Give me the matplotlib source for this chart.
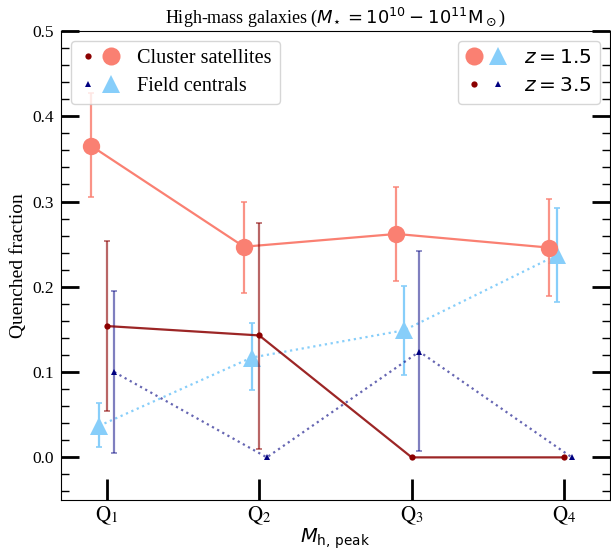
import matplotlib
matplotlib.use('Agg')
import matplotlib.pyplot as plt
from matplotlib.legend_handler import HandlerTuple
from matplotlib.lines import Line2D
from matplotlib.ticker import MultipleLocator
import numpy as np

plt.rcParams['font.family'] = ['Liberation Serif', 'DejaVu Serif']
plt.rcParams['mathtext.fontset'] = 'dejavusans'

quartiles = [1, 2, 3, 4]
tick_labels = [r'$\mathrm{Q}_1$', r'$\mathrm{Q}_2$', r'$\mathrm{Q}_3$', r'$\mathrm{Q}_4$']

# Cluster satellites, z = 1.5
sat_z15 = [0.365, 0.247, 0.262, 0.246]
sat_z15_lo = [0.305, 0.193, 0.207, 0.189]
sat_z15_hi = [0.427, 0.300, 0.317, 0.303]
# Field centrals, z = 1.5
cen_z15 = [0.037, 0.117, 0.149, 0.237]
cen_z15_lo = [0.012, 0.079, 0.097, 0.182]
cen_z15_hi = [0.064, 0.157, 0.201, 0.293]
# Cluster satellites, z = 3.5
sat_z35 = [0.154, 0.143, 0.0, 0.0]
sat_z35_lo = [0.054, 0.010, 0.0, 0.0]
sat_z35_hi = [0.254, 0.275, 0.0, 0.0]
# Field centrals, z = 3.5
cen_z35 = [0.100, 0.0, 0.124, 0.0]
cen_z35_lo = [0.005, 0.0, 0.008, 0.0]
cen_z35_hi = [0.195, 0.0, 0.242, 0.0]

fig = plt.figure(figsize=(6.11, 5.53), dpi=100)
ax = fig.add_axes([0.0998, 0.0958, 0.8985, 0.8482])


def series(y, lo, hi, dx, color, ecolor, ealpha, marker, ms, ls, lalpha, z):
    x = np.array(quartiles, dtype=float) + dx
    y = np.array(y); lo = np.array(lo); hi = np.array(hi)
    m = hi > lo
    ax.errorbar(x[m], y[m], yerr=[y[m] - lo[m], hi[m] - y[m]], fmt='none',
                ecolor=ecolor, alpha=ealpha, elinewidth=1.6, capsize=2.5,
                capthick=1.2, zorder=z)
    ax.plot(x, y, ls=ls, color=color, lw=1.6, alpha=lalpha, zorder=z + 0.1)
    ax.plot(x, y, ls='none', marker=marker, ms=ms, color=color,
            markeredgewidth=0, zorder=z + 0.2)


series(cen_z15, cen_z15_lo, cen_z15_hi, -0.05, 'lightskyblue', 'lightskyblue', 1.0,
       '^', 13, ':', 1.0, 2)
series(sat_z15, sat_z15_lo, sat_z15_hi, -0.10, 'salmon', 'salmon', 0.85,
       'o', 12.5, '-', 1.0, 3)
series(cen_z35, cen_z35_lo, cen_z35_hi, 0.05, 'navy', 'navy', 0.5,
       '^', 4.5, ':', 0.6, 4)
series(sat_z35, sat_z35_lo, sat_z35_hi, 0.0, 'darkred', 'darkred', 0.6,
       'o', 4.5, '-', 0.85, 5)

ax.set_xlim(0.7, 4.3)
ax.set_ylim(-0.05, 0.5)
ax.set_xticks(quartiles)
ax.set_xticklabels(tick_labels, math_fontfamily='stix', fontsize=15)
ax.yaxis.set_major_locator(MultipleLocator(0.1))
ax.yaxis.set_minor_locator(MultipleLocator(0.02))
ax.tick_params(axis='y', which='both', direction='in', left=True, right=True,
               labelsize=12.5, pad=5)
ax.tick_params(axis='y', which='major', length=13, width=2)
ax.tick_params(axis='y', which='minor', length=6, width=1)
ax.tick_params(axis='x', which='major', direction='in', length=15, width=2, top=False, pad=3)
ax.set_yticks([0.0, 0.1, 0.2, 0.3, 0.4, 0.5])
ax.set_yticklabels(['0.0', '0.1', '0.2', '0.3', '0.4', '0.5'])

ax.set_ylabel('Quenched fraction', fontsize=14)
ax.set_xlabel(r'$M_{\rm h,\,peak}$', fontsize=14, labelpad=0)
ax.set_title(r'High-mass galaxies ($M_{\!\star} = 10^{10} - 10^{11}\mathrm{M}_\odot$)',
             fontsize=13, pad=6)

def mk(marker, ms, color):
    return Line2D([], [], ls='none', marker=marker, ms=ms, color=color, markeredgewidth=0)

h1 = [(mk('o', 4.5, 'darkred'), mk('o', 13, 'salmon')),
      (mk('^', 4.5, 'navy'), mk('^', 13, 'lightskyblue'))]
leg1 = ax.legend(h1, ['Cluster satellites', 'Field centrals'], loc='upper left',
                 handler_map={tuple: HandlerTuple(ndivide=None, pad=0.3)},
                 fontsize=14.6, handlelength=2.0, borderaxespad=0.5,
                 labelspacing=0.4, handletextpad=0.85)
ax.add_artist(leg1)
h2 = [(mk('o', 13, 'salmon'), mk('^', 13, 'lightskyblue')),
      (mk('o', 4.5, 'darkred'), mk('^', 4.5, 'navy'))]
ax.legend(h2, [r'$z = 1.5$', r'$z = 3.5$'], loc='upper right',
          handler_map={tuple: HandlerTuple(ndivide=None, pad=0.4)},
          fontsize=14.6, handlelength=2.0, borderaxespad=0.5,
          labelspacing=0.4, handletextpad=0.85)

fig.savefig('out.png', dpi=100)
